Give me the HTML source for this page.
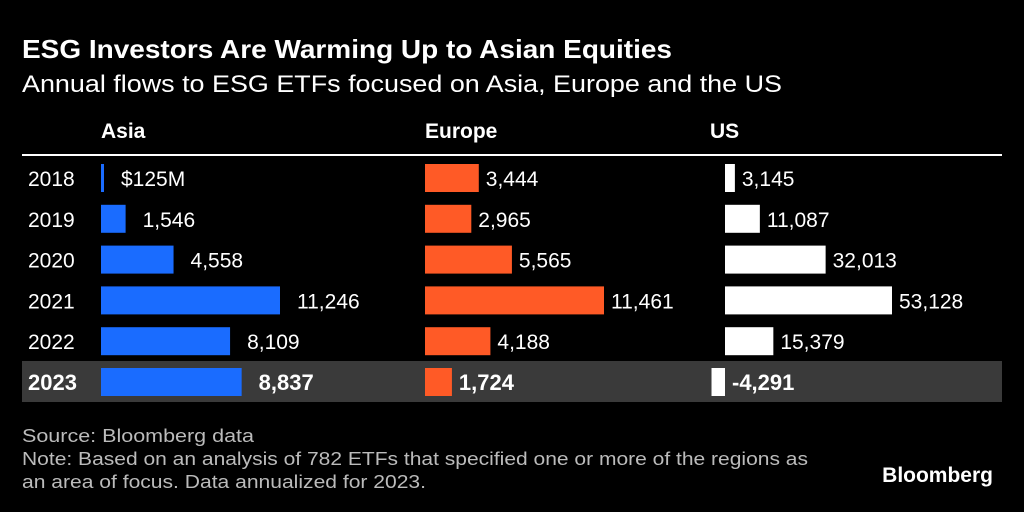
<!DOCTYPE html>
<html><head><meta charset="utf-8">
<style>
body{margin:0;background:#000;width:1024px;height:512px;overflow:hidden;font-family:"Liberation Sans",sans-serif;color:#fff}
</style></head><body>
<svg id="c" width="1024" height="512" style="position:absolute;left:0;top:0">
<text x="22" y="58" font-size="26" font-weight="bold" fill="#fff" textLength="650" lengthAdjust="spacingAndGlyphs">ESG Investors Are Warming Up to Asian Equities</text>
<text x="22" y="92" font-size="24" fill="#fff" textLength="760" lengthAdjust="spacingAndGlyphs">Annual flows to ESG ETFs focused on Asia, Europe and the US</text>
<rect x="22" y="361" width="980" height="41" fill="#3a3a3a"/>
<line x1="22" y1="155" x2="1002" y2="155" stroke="#fff" stroke-width="2"/>
<g id="marks"></g>
<text x="22" y="442" font-size="18" fill="#bbb" textLength="232" lengthAdjust="spacingAndGlyphs">Source: Bloomberg data</text>
<text x="22" y="465" font-size="18" fill="#bbb" textLength="786" lengthAdjust="spacingAndGlyphs">Note: Based on an analysis of 782 ETFs that specified one or more of the regions as</text>
<text x="22" y="488" font-size="18" fill="#bbb" textLength="404" lengthAdjust="spacingAndGlyphs">an area of focus. Data annualized for 2023.</text>
<text x="993" y="482" font-size="21" font-weight="bold" fill="#fff" text-anchor="end">Bloomberg</text>
</svg>
<script>
const years=["2018","2019","2020","2021","2022","2023"];
const asia=[125,1546,4558,11246,8109,8837];
const europe=[3444,2965,5565,11461,4188,1724];
const us=[3145,11087,32013,53128,15379,-4291];
const asiaLabels=["$125M","1,546","4,558","11,246","8,109","8,837"];
const europeLabels=["3,444","2,965","5,565","11,461","4,188","1,724"];
const usLabels=["3,145","11,087","32,013","53,128","15,379","-4,291"];
const NS="http://www.w3.org/2000/svg";
const g=document.getElementById('marks');
function rowY(i){return 178+i*40.8;}
const cols=[
 {name:"Asia",hx:101,x0:101,scale:179/11246,vals:asia,labels:asiaLabels,color:"#1a6cff",gap:17},
 {name:"Europe",hx:425,x0:425,scale:179/11461,vals:europe,labels:europeLabels,color:"#ff5a26",gap:7},
 {name:"US",hx:710,x0:725,scale:167/53128,vals:us,labels:usLabels,color:"#ffffff",gap:7}
];
function txt(x,y,s,size,bold,name,anchor){
 const t=document.createElementNS(NS,'text');
 t.setAttribute('x',x);t.setAttribute('y',y);t.setAttribute('font-size',size);
 t.setAttribute('fill','#fff');if(bold)t.setAttribute('font-weight','bold');
 if(anchor)t.setAttribute('text-anchor',anchor);
 t.textContent=s;
 
 
 g.appendChild(t);return t;
}
cols.forEach(c=>{
 txt(c.hx,138,c.name,21,true,'column-header-'+c.name.toLowerCase());
});
years.forEach((y,i)=>{
 const last=i===years.length-1;
 txt(28,rowY(i)+8,y,last?22:21,last,'year-label-'+y);
 cols.forEach(c=>{
  const v=c.vals[i];
  let w=Math.abs(v)*c.scale; if(w<3)w=3;
  const x=v>=0?c.x0:c.x0-w;
  const r=document.createElementNS(NS,'rect');
  r.setAttribute('x',x);r.setAttribute('y',rowY(i)-14);
  r.setAttribute('width',w);r.setAttribute('height',28);
  r.setAttribute('fill',c.color);
  
  
  g.appendChild(r);
  const lx=(v>=0?c.x0+w:c.x0)+c.gap;
  txt(lx,rowY(i)+8,c.labels[i],last?22:21,last,'value-label-'+c.name.toLowerCase()+'-'+y);
 });
});
</script>
</body></html>
